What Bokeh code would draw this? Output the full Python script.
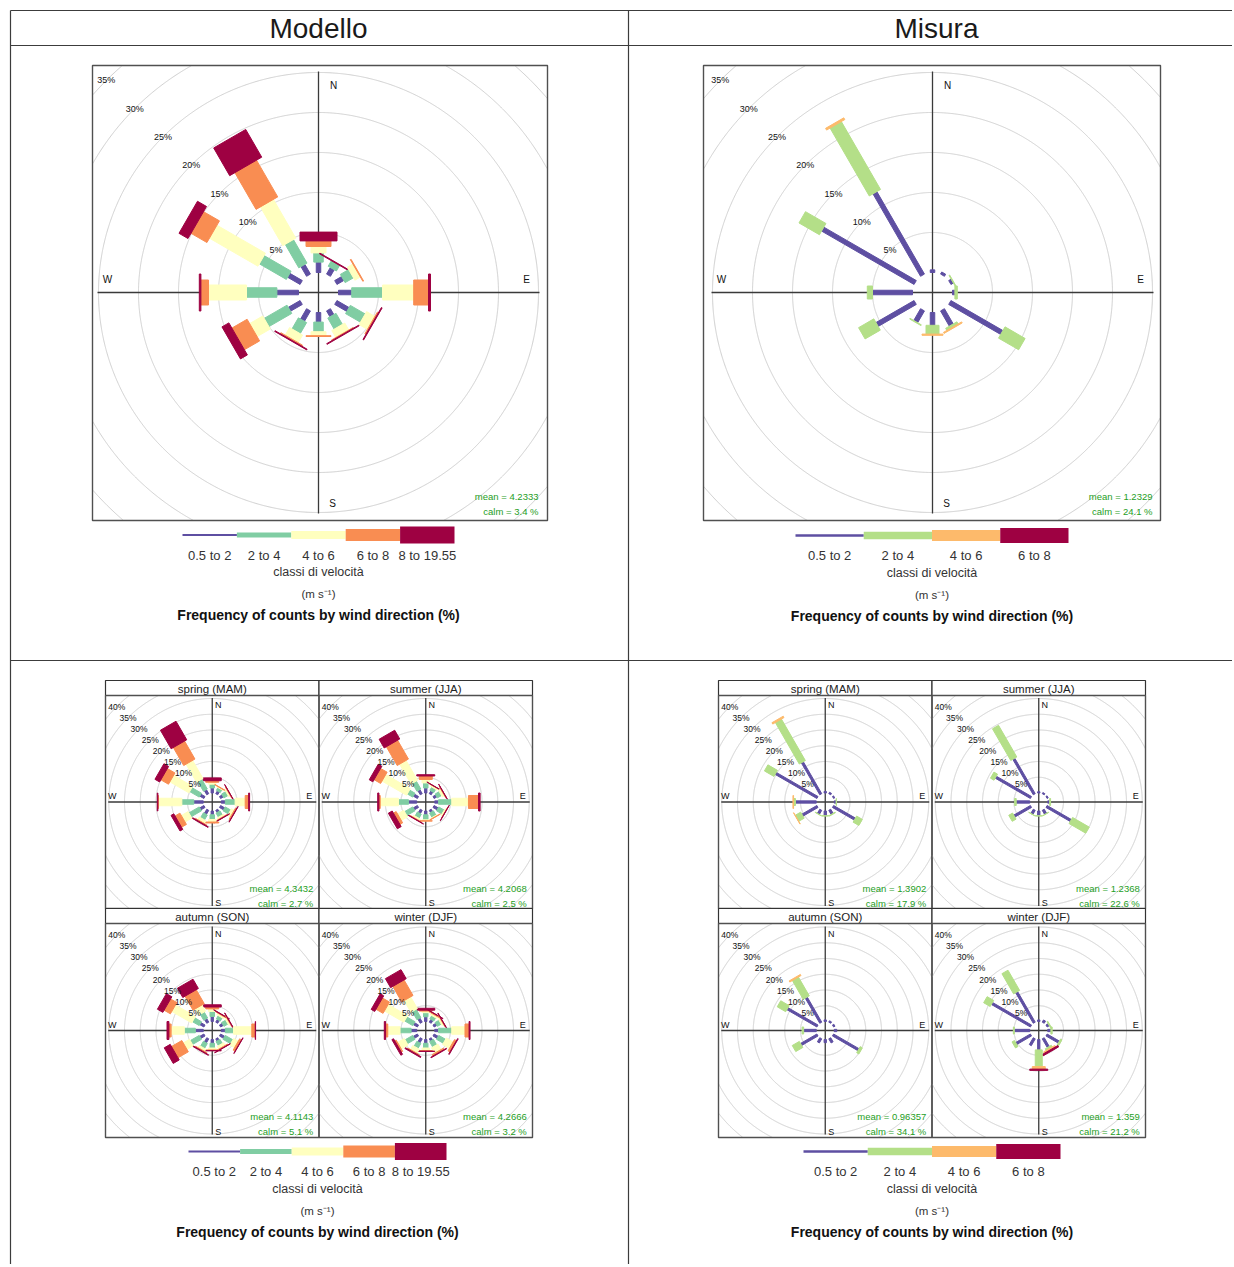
import math
from bokeh.plotting import figure
from bokeh.models import Range1d
from bokeh.core.properties import value
from bokeh.embed import file_html
from bokeh.resources import INLINE

# ---------------- data ----------------
DIRECTIONS = [0, 30, 60, 90, 120, 150, 180, 210, 240, 270, 300, 330]
MOD_CLASSES = ["0.5 to 2", "2 to 4", "4 to 6", "6 to 8", "8 to 19.55"]
MIS_CLASSES = ["0.5 to 2", "2 to 4", "4 to 6", "6 to 8"]
COL_TITLES = ["Modello", "Misura"]
SEASONS = ["spring (MAM)", "summer (JJA)", "autumn (SON)", "winter (DJF)"]
COMPASS = ["N", "E", "S", "W"]
LEGEND_TITLE = "classi di velocità"
LEGEND_UNITS = "(m s⁻¹)"
CHART_TITLE = "Frequency of counts by wind direction (%)"

# frequency (%) for each direction (rows, DIRECTIONS order) and speed class (columns)
mod_year = [
    [1.3, 1.15, 0.8, 0.7, 1.1],
    [0.95, 0.8, 0.0, 0.0, 0.1],
    [1.0, 1.2, 0.8, 0.1, 0.0],
    [1.65, 3.85, 3.9, 1.85, 0.25],
    [1.75, 2.15, 1.2, 0.15, 0.1],
    [0.85, 1.6, 1.0, 0.1, 0.1],
    [1.2, 1.2, 0.5, 0.1, 0.0],
    [1.5, 1.6, 1.1, 0.15, 0.1],
    [1.7, 3.3, 1.9, 2.2, 1.0],
    [2.7, 3.8, 4.75, 0.95, 0.2],
    [1.8, 3.9, 7.0, 2.3, 1.3],
    [1.4, 3.4, 5.6, 5.3, 4.0],
]
mis_year = [
    [0.33, 0.0, 0.0, 0.0],
    [0.3, 0.0, 0.0, 0.0],
    [0.35, 0.1, 0.0, 0.0],
    [0.3, 0.3, 0.0, 0.0],
    [7.5, 2.9, 0.0, 0.0],
    [2.2, 0.3, 0.15, 0.0],
    [1.6, 1.1, 0.15, 0.0],
    [1.7, 0.1, 0.0, 0.0],
    [5.5, 2.2, 0.0, 0.0],
    [5.0, 0.65, 0.0, 0.0],
    [13.35, 2.95, 0.0, 0.0],
    [11.9, 9.8, 0.25, 0.0],
]
mod_spring = [
    [1.6, 1.2, 0.6, 0.5, 0.9], [1.0, 1.0, 0.3, 0.1, 0.0], [1.0, 1.5, 0.6, 0.2, 0.05],
    [1.3, 3.1, 3.2, 1.1, 0.3], [1.5, 2.0, 1.0, 0.4, 0.1], [0.8, 1.5, 0.6, 0.2, 0.1],
    [1.2, 1.5, 0.8, 0.3, 0.0], [1.5, 1.8, 1.0, 0.3, 0.2], [1.5, 3.8, 2.5, 1.8, 1.0],
    [3.0, 3.8, 7.4, 0.2, 0.2], [1.5, 3.5, 7.0, 2.8, 1.7], [1.5, 3.6, 6.6, 6.6, 6.8],
]
mod_summer = [
    [1.6, 1.6, 1.1, 1.1, 0.4], [1.0, 1.2, 0.5, 0.1, 0.05], [1.0, 1.5, 0.8, 0.2, 0.05],
    [1.2, 4.2, 5.3, 3.2, 0.5], [1.5, 2.0, 0.5, 0.1, 0.05], [0.8, 1.6, 0.3, 0.1, 0.0],
    [1.2, 1.6, 0.3, 0.1, 0.0], [1.2, 1.5, 0.6, 0.2, 0.1], [1.5, 3.0, 2.3, 1.0, 1.4],
    [2.6, 3.2, 5.8, 0.4, 0.4], [1.5, 2.0, 9.0, 2.4, 1.3], [1.5, 2.9, 7.3, 6.9, 3.2],
]
mod_autumn = [
    [1.6, 1.6, 0.8, 0.6, 0.7], [1.0, 1.2, 0.6, 0.2, 0.1], [1.0, 1.5, 0.6, 0.2, 0.1],
    [1.3, 2.6, 5.8, 1.1, 0.1], [1.5, 2.8, 1.7, 0.7, 0.1], [0.8, 1.5, 1.0, 0.3, 0.1],
    [1.2, 1.5, 0.6, 0.2, 0.1], [1.5, 1.8, 0.8, 0.3, 0.2], [1.5, 3.3, 2.3, 3.8, 2.2],
    [2.5, 3.5, 4.2, 0.7, 0.6], [1.5, 2.5, 7.3, 2.3, 2.0], [1.3, 2.2, 2.3, 5.1, 3.4],
]
mod_winter = [
    [1.5, 1.3, 0.5, 0.3, 0.6], [1.0, 1.2, 0.6, 0.3, 0.1], [1.0, 1.4, 0.6, 0.2, 0.1],
    [1.2, 4.2, 4.2, 1.3, 0.3], [1.5, 2.5, 2.5, 0.7, 0.2], [0.8, 2.0, 2.0, 0.5, 0.2],
    [1.2, 1.5, 0.8, 0.2, 0.1], [1.5, 1.8, 1.5, 0.3, 0.3], [1.5, 2.8, 2.5, 0.5, 0.6],
    [1.8, 3.5, 3.9, 0.7, 0.4], [1.5, 3.0, 7.1, 2.6, 1.3], [1.5, 3.0, 4.3, 5.7, 3.3],
]
mis_spring = [
    [0.5, 0, 0, 0], [0.5, 0, 0, 0], [0.4, 0, 0, 0], [0.6, 0.1, 0, 0],
    [8.0, 2.1, 0, 0], [1.5, 0.2, 0, 0], [1.5, 0.1, 0, 0], [1.5, 0.1, 0, 0],
    [5.5, 2.0, 0.1, 0], [6.6, 0.6, 0.2, 0], [15.3, 3.5, 0, 0], [11.7, 15.2, 0.5, 0],
]
mis_summer = [
    [0.4, 0, 0, 0], [0.4, 0, 0, 0], [0.4, 0, 0, 0], [0.6, 0.3, 0, 0],
    [8.9, 6.1, 0, 0], [1.5, 0.1, 0, 0], [1.5, 0.1, 0, 0], [1.5, 0.1, 0, 0],
    [6.1, 1.4, 0, 0], [4.3, 0.5, 0, 0], [12.9, 1.3, 0, 0], [13.0, 11.6, 0, 0],
]
mis_autumn = [
    [0.5, 0, 0, 0], [0.5, 0, 0, 0], [0.5, 0, 0, 0], [0.8, 0, 0, 0],
    [9.3, 0.8, 0, 0], [1.5, 0, 0, 0], [1.0, 0, 0, 0], [1.5, 0, 0, 0],
    [6.0, 2.6, 0, 0], [4.0, 0.5, 0, 0], [11.0, 3.1, 0, 0], [9.2, 6.9, 0.4, 0],
]
mis_winter = [
    [0.5, 0, 0, 0], [0.8, 0, 0, 0], [0.8, 0.3, 0, 0], [1.0, 0.4, 0, 0],
    [4.5, 0.5, 0, 0], [3.2, 0.6, 0.5, 0.5], [3.3, 5.3, 0.8, 0.4], [2.5, 0, 0, 0],
    [5.4, 0.9, 0, 0], [4.9, 0.3, 0, 0], [14.3, 2.4, 0, 0], [11.2, 7.4, 0, 0],
]
mod_stats = [("4.2333", "3.4"), ("4.3432", "2.7"), ("4.2068", "2.5"), ("4.1143", "5.1"), ("4.2666", "3.2")]
mis_stats = [("1.2329", "24.1"), ("1.3902", "17.9"), ("1.2368", "22.6"), ("0.96357", "34.1"), ("1.359", "21.2")]

# ---------------- styles ----------------
MOD_COLORS = ["#5E4FA2", "#80CDA3", "#FFFFBF", "#F98D52", "#9E0142"]
MIS_COLORS = ["#5E4FA2", "#B4DF88", "#FDBA6B", "#9E0142"]
FONT = value("Liberation Sans")
STAT_COLOR = "#1E9E1E"
RING_COLOR = "#CFCFCF"
W, H = 1232, 1264

p = figure(width=W, height=H, x_range=Range1d(0, W), y_range=Range1d(H, 0),
           output_backend="svg", toolbar_location=None, min_border=0)
p.axis.visible = False
p.grid.visible = False
p.outline_line_color = None
p.background_fill_color = "white"


def txt(x, y, s, size, color="#111111", align="center", bold=False, baseline="middle"):
    p.text(x=[x], y=[y], text=[s], text_font=FONT, text_font_size=value(f"{size}px"),
           text_color=color, text_align=align, text_baseline=baseline,
           text_font_style="bold" if bold else "normal")


def ring_runs(cx, cy, r, box):
    l, t, rt, b = box
    runs, cur = [], ([], [])
    n = 1440
    for k in range(n + 1):
        a = 2 * math.pi * k / n
        x = cx + r * math.sin(a)
        y = cy - r * math.cos(a)
        if l <= x <= rt and t <= y <= b:
            cur[0].append(x); cur[1].append(y)
        else:
            if len(cur[0]) > 1:
                runs.append(cur)
            cur = ([], [])
    if len(cur[0]) > 1:
        runs.append(cur)
    return runs


def rose(cx, cy, box, data, colors, widths, pxpc, off, rings, labels, axis_half,
         lab_size, cmp_size, cmp_pos, stats, stat_pos, stat_size):
    l, t, rt, b = box
    xs, ys = [], []
    for r in rings:
        for rx, ry in ring_runs(cx, cy, off + pxpc * r, box):
            xs.append(rx); ys.append(ry)
    p.multi_line(xs=xs, ys=ys, line_color=RING_COLOR, line_width=1)
    # axes cross
    p.segment(x0=[cx, cx - axis_half], y0=[cy - axis_half, cy], x1=[cx, cx + axis_half],
              y1=[cy + axis_half, cy], line_color="#3A3A3A", line_width=1.3)
    # paddles
    pxs, pys, pc = [], [], []
    for d, row in zip(DIRECTIONS, data):
        th = math.radians(d)
        ux, uy = math.sin(th), -math.cos(th)
        vx, vy = math.cos(th), math.sin(th)
        cum = 0.0
        for i, v in enumerate(row):
            if v <= 0:
                continue
            r1 = off + pxpc * cum
            cum += v
            r2 = off + pxpc * cum
            hw = widths[i] / 2
            pxs.append([cx + r1 * ux - hw * vx, cx + r2 * ux - hw * vx,
                        cx + r2 * ux + hw * vx, cx + r1 * ux + hw * vx])
            pys.append([cy + r1 * uy - hw * vy, cy + r2 * uy - hw * vy,
                        cy + r2 * uy + hw * vy, cy + r1 * uy + hw * vy])
            pc.append(colors[i])
    p.patches(xs=pxs, ys=pys, fill_color=pc, line_color=pc, line_width=1)
    # ring labels along NW diagonal
    for r in labels:
        rr = off + pxpc * r
        txt(cx - rr * 0.7071, cy - rr * 0.7071, f"{r}%", lab_size)
    # compass labels
    for lab, (dx, dy) in zip(COMPASS, cmp_pos):
        txt(cx + dx, cy + dy, lab, cmp_size)
    # box
    p.quad(left=[l], right=[rt], top=[t], bottom=[b], fill_color=None,
           line_color="#505050", line_width=1.4)
    mean, calm = stats
    sx, sy1, sy2 = stat_pos
    txt(cx + sx, cy + sy1, f"mean = {mean}", stat_size, color=STAT_COLOR, align="right")
    txt(cx + sx, cy + sy2, f"calm = {calm} %", stat_size, color=STAT_COLOR, align="right")


def legend(x0, x1, y, classes, colors, thick):
    n = len(classes)
    seg = (x1 - x0) / n
    p.quad(left=[x0 + i * seg for i in range(n)], right=[x0 + (i + 1) * seg for i in range(n)],
           top=[y - thick[i] / 2 for i in range(n)], bottom=[y + thick[i] / 2 for i in range(n)],
           fill_color=colors, line_color=None)
    for i, c in enumerate(classes):
        txt(x0 + (i + 0.5) * seg, y + 20, c, 13, color="#333333")
    xc = (x0 + x1) / 2
    txt(xc, y + 37, LEGEND_TITLE, 12.5, color="#333333")
    txt(xc, y + 59, LEGEND_UNITS, 11.5, color="#333333")
    txt(xc, y + 80, CHART_TITLE, 14, color="#111111", bold=True)


# ---------------- table ----------------
p.segment(x0=[10, 10, 10, 10, 628], y0=[10, 45, 660, 10, 10], x1=[1234, 1234, 1234, 10, 628],
          y1=[10, 45, 660, 1267, 1267], line_color="#3C3C3C", line_width=1.2)
txt(318, 28, COL_TITLES[0], 28, color="#1A1A1A")
txt(936, 28, COL_TITLES[1], 28, color="#1A1A1A")

# ---------------- top roses ----------------
TOP_RINGS = [5, 10, 15, 20, 25, 30, 35, 40]
TOP_LABELS = [5, 10, 15, 20, 25, 30, 35]
TOP_CMP = [(15, -207), (208, -13), (14, 211), (-211, -13)]
rose(318, 292, (92, 65, 547, 520), mod_year, MOD_COLORS, [4.5, 9.5, 15, 25, 37], 8.0, 20,
     TOP_RINGS, TOP_LABELS, 221, 9, 10, TOP_CMP, mod_stats[0], (220, 204, 219), 9.5)
rose(932, 292, (703, 65, 1160, 520), mis_year, MIS_COLORS, [4.5, 13, 21, 28], 8.0, 20,
     TOP_RINGS, TOP_LABELS, 221, 9, 10, TOP_CMP, mis_stats[0], (220, 204, 219), 9.5)
legend(182, 454, 534.5, MOD_CLASSES, MOD_COLORS, [2, 5, 8, 12, 17])
legend(795, 1068, 535, MIS_CLASSES, MIS_COLORS, [2.3, 7.5, 11, 15])

# ---------------- seasonal panels ----------------
SM_RINGS = [5, 10, 15, 20, 25, 30, 35, 40, 45]
SM_LABELS = [5, 10, 15, 20, 25, 30, 35, 40]
SM_CMP = [(6, -97), (97, -6), (6, 101), (-100, -6)]


def seasonal(gx0, gx1, datasets, stats, colors, widths):
    gxm = (gx0 + gx1) / 2
    rows = [(680, 695, 908), (908, 923, 1137)]
    k = 0
    for (s0, s1, s2) in rows:
        for (a, bb) in [(gx0, gxm), (gxm, gx1)]:
            p.quad(left=[a], right=[bb], top=[s0], bottom=[s1], fill_color="white",
                   line_color="#333333", line_width=1.2)
            txt((a + bb) / 2, (s0 + s1) / 2 + 0.5, SEASONS[k], 11.5, color="#222222")
            cx, cy = (a + bb) / 2, (s1 + s2) / 2
            rose(cx, cy, (a, s1, bb, s2), datasets[k], colors, widths, 3.15, 9,
                 SM_RINGS, SM_LABELS, 104, 8.5, 9, SM_CMP, stats[k + 1], (101, 86, 101), 9.5)
            k += 1


seasonal(105, 532, [mod_spring, mod_summer, mod_autumn, mod_winter], mod_stats,
         MOD_COLORS, [2.3, 4.5, 7.5, 13, 18])
seasonal(718, 1145, [mis_spring, mis_summer, mis_autumn, mis_winter], mis_stats,
         MIS_COLORS, [2.3, 7, 13, 18])
legend(188, 446, 1151, MOD_CLASSES, MOD_COLORS, [2, 5, 8, 12, 17])
legend(803, 1060, 1151, MIS_CLASSES, MIS_COLORS, [2.3, 7.5, 11, 15])

open("out.html", "w").write(file_html(p, INLINE))
